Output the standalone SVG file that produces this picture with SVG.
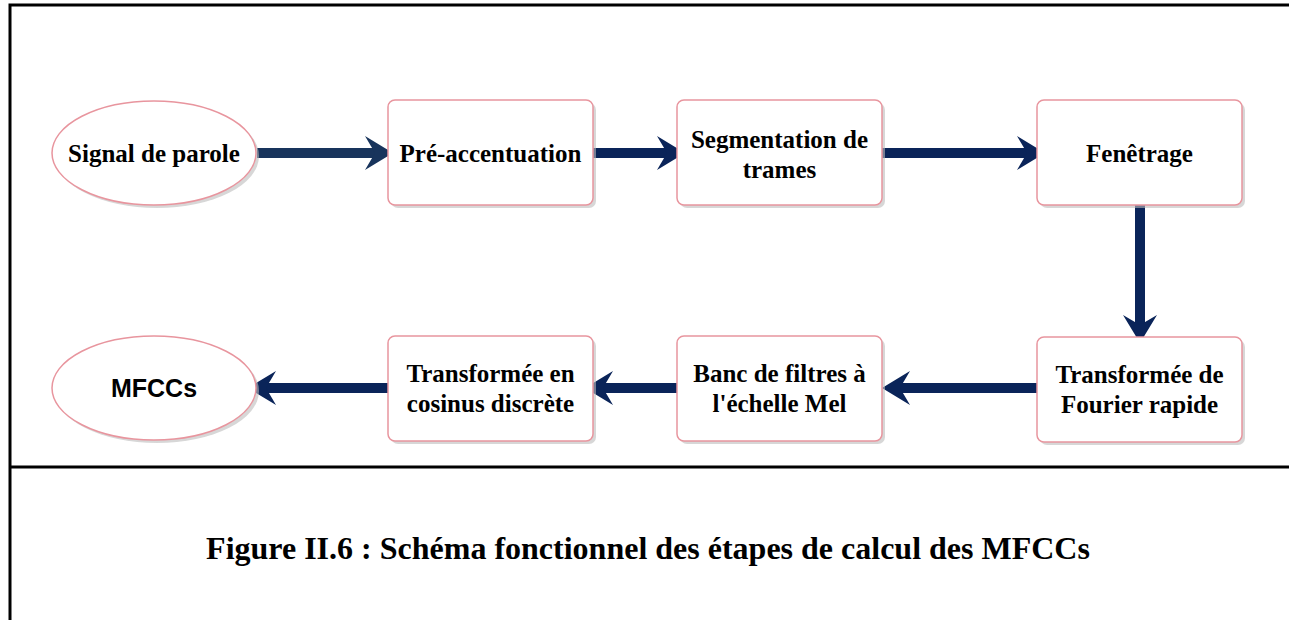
<svg xmlns="http://www.w3.org/2000/svg" width="1289" height="620" viewBox="0 0 1289 620">
<style>
.box{fill:#ffffff;stroke:#e8959e;stroke-width:1.5}
.shadow{fill:#bdbdbd;opacity:0.6}
.t{font-family:"Liberation Serif","Times New Roman",serif;font-weight:bold;font-size:25px;fill:#000;text-anchor:middle}
.s{font-family:"Liberation Sans",Arial,sans-serif;font-weight:bold;font-size:25px;fill:#000;text-anchor:middle}
.cap{font-family:"Liberation Serif","Times New Roman",serif;font-weight:bold;font-size:32px;fill:#000;text-anchor:middle}
.ln{stroke:#0a2459;stroke-width:10;fill:none}
.frame{stroke:#000;stroke-width:3;fill:none}
</style>
<defs>
<marker id="ah" markerUnits="userSpaceOnUse" viewBox="-30 -18 32 36" refX="-18" refY="0" markerWidth="32" markerHeight="36" orient="auto">
<path d="M0,0 L-28,-17 L-18,0 L-28,17 Z" fill="#0a2459"/>
</marker>
<marker id="ah1" markerUnits="userSpaceOnUse" viewBox="-30 -18 32 36" refX="-18" refY="0" markerWidth="32" markerHeight="36" orient="auto">
<path d="M0,0 L-28,-17 L-18,0 L-28,17 Z" fill="#18345c"/>
</marker>
</defs>
<g id="frame">
<path class="frame" d="M10,620 L10,5 L1289,5"/>
<path class="frame" d="M10,467 L1289,467"/>
</g>
<g id="connectors">
<path class="ln" style="stroke:#18345c" d="M257,153 L375,153" marker-end="url(#ah1)"/>
<path class="ln" d="M593,153 L667,153" marker-end="url(#ah)"/>
<path class="ln" d="M882,153 L1027,153" marker-end="url(#ah)"/>
<path class="ln" d="M1140,205 L1140,325" marker-end="url(#ah)"/>
<path class="ln" d="M1037,388 L900,388" marker-end="url(#ah)"/>
<path class="ln" d="M677,388 L603,388" marker-end="url(#ah)"/>
<path class="ln" d="M388,388 L266,388" marker-end="url(#ah)"/>
</g>
<g id="signal">
<ellipse cx="157" cy="156" rx="102" ry="52" class="shadow"/>
<ellipse cx="154" cy="153" rx="102" ry="52" class="box"/>
<text class="t" x="154" y="162">Signal de parole</text>
</g>
<g id="preaccentuation">
<rect x="391" y="103" width="205" height="105" rx="7" class="shadow"/>
<rect x="388" y="100" width="205" height="105" rx="7" class="box"/>
<text class="t" x="490.5" y="162">Pré-accentuation</text>
</g>
<g id="segmentation">
<rect x="680" y="103" width="205" height="105" rx="7" class="shadow"/>
<rect x="677" y="100" width="205" height="105" rx="7" class="box"/>
<text class="t" x="779.5" y="148">Segmentation de</text>
<text class="t" x="779.5" y="178">trames</text>
</g>
<g id="fenetrage">
<rect x="1040" y="103" width="205" height="105" rx="7" class="shadow"/>
<rect x="1037" y="100" width="205" height="105" rx="7" class="box"/>
<text class="t" x="1139.5" y="162">Fenêtrage</text>
</g>
<g id="fft">
<rect x="1040" y="340" width="205" height="105" rx="7" class="shadow"/>
<rect x="1037" y="337" width="205" height="105" rx="7" class="box"/>
<text class="t" x="1139.5" y="383">Transformée de</text>
<text class="t" x="1139.5" y="413">Fourier rapide</text>
</g>
<g id="mel">
<rect x="680" y="339" width="205" height="105" rx="7" class="shadow"/>
<rect x="677" y="336" width="205" height="105" rx="7" class="box"/>
<text class="t" x="779.5" y="382">Banc de filtres à</text>
<text class="t" x="779.5" y="412">l'échelle Mel</text>
</g>
<g id="dct">
<rect x="391" y="339" width="205" height="105" rx="7" class="shadow"/>
<rect x="388" y="336" width="205" height="105" rx="7" class="box"/>
<text class="t" x="490.5" y="382">Transformée en</text>
<text class="t" x="490.5" y="412">cosinus discrète</text>
</g>
<g id="mfccs">
<ellipse cx="157" cy="391" rx="102" ry="52" class="shadow"/>
<ellipse cx="154" cy="388" rx="102" ry="52" class="box"/>
<text class="s" x="154" y="397">MFCCs</text>
</g>
<g id="caption">
<text class="cap" x="648" y="559">Figure II.6 : Schéma fonctionnel des étapes de calcul des MFCCs</text>
</g>
</svg>
